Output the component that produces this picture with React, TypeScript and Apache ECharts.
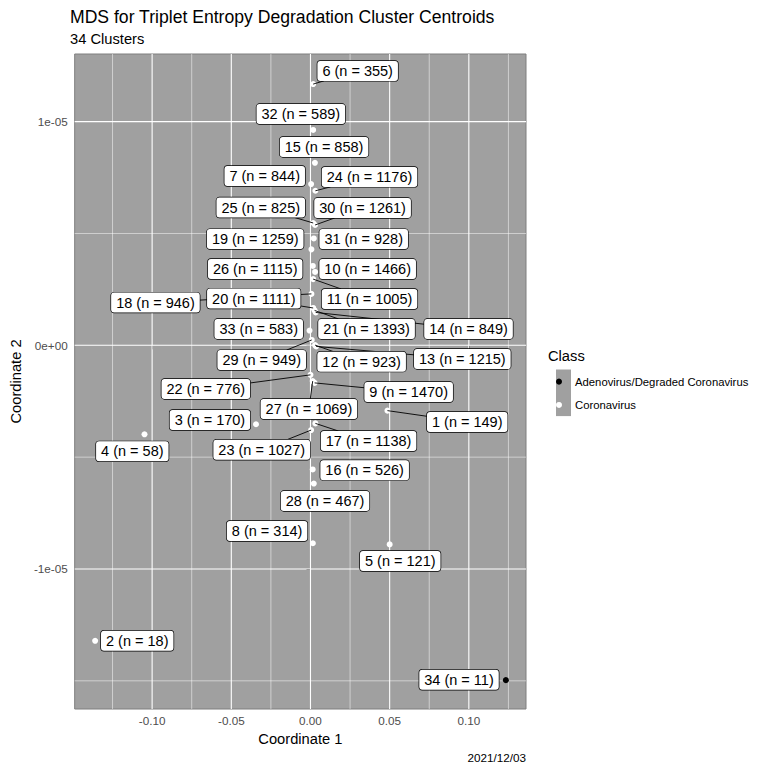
import React, { useEffect, useRef } from "react";
import * as echarts from "echarts";

// ---- data ----
const clusterIds = [1, 2, 3, 4, 5, 6, 7, 8, 9, 10, 11, 12, 13, 14, 15, 16, 17, 18, 19, 20, 21, 22, 23, 24, 25, 26, 27, 28, 29, 30, 31, 32, 33, 34];
const clusterN = [149, 18, 170, 58, 121, 355, 844, 314, 1470, 1466, 1005, 923, 1215, 849, 858, 526, 1138, 946, 1259, 1111, 1393, 776, 1027, 1176, 825, 1115, 1069, 467, 949, 1261, 928, 589, 583, 11];
const clusterClass = [
  "Coronavirus", "Coronavirus", "Coronavirus", "Coronavirus", "Coronavirus", "Coronavirus", "Coronavirus", "Coronavirus", "Coronavirus", "Coronavirus",
  "Coronavirus", "Coronavirus", "Coronavirus", "Coronavirus", "Coronavirus", "Coronavirus", "Coronavirus", "Coronavirus", "Coronavirus", "Coronavirus",
  "Coronavirus", "Coronavirus", "Coronavirus", "Coronavirus", "Coronavirus", "Coronavirus", "Coronavirus", "Coronavirus", "Coronavirus", "Coronavirus",
  "Coronavirus", "Coronavirus", "Coronavirus", "Adenovirus/Degraded Coronavirus",
];
const coord1 = [0.0486, -0.136, -0.0344, -0.1048, 0.05, 0.0017, 0.0004, 0.0015, 0.0026, 0.0029, 0.0017, 0.0029, 0.0036, 0.0033, 0.0028, 0.0014, 0.0031, 0.0006, 0.0006, 0.0017, 0.0026, 0.0, 0.0004, 0.0031, 0.0017, 0.0015, 0.0014, 0.0021, 0.0008, 0.0029, 0.0021, 0.0017, -0.0006, 0.1234];
const coord2 = [-2.92e-6, -1.321e-5, -3.53e-6, -3.98e-6, -8.9e-6, 1.168e-5, 7.21e-6, -8.85e-6, -1.68e-6, 3.28e-6, 2.96e-6, 0.01e-6, -0.05e-6, 1.47e-6, 8.16e-6, -5.55e-6, -3.49e-6, 2.3e-6, 4.29e-6, 1.67e-6, 1.56e-6, -1.32e-6, -3.79e-6, 6.91e-6, 5.47e-6, 3.55e-6, -1.6e-6, -6.18e-6, 0.24e-6, 5.38e-6, 4.78e-6, 9.63e-6, 0.66e-6, -1.497e-5];
// repelled label anchors (label centres, in data units)
const labelAnchor1 = [0.099, -0.1094, -0.0635, -0.1125, 0.0567, 0.0298, -0.0289, -0.0274, 0.062, 0.0361, 0.0373, 0.0323, 0.0959, 0.0998, 0.0086, 0.0342, 0.0367, -0.0979, -0.0349, -0.0358, 0.0354, -0.0661, -0.0308, 0.0373, -0.0314, -0.0349, -0.001, 0.0092, -0.0308, 0.0329, 0.0336, -0.0061, -0.0327, 0.0938];
const labelAnchor2 = [-3.43e-6, -1.321e-5, -3.34e-6, -4.74e-6, -9.64e-6, 1.227e-5, 7.57e-6, -8.3e-6, -2.09e-6, 3.41e-6, 2.07e-6, -0.73e-6, -0.61e-6, 0.73e-6, 8.87e-6, -5.58e-6, -4.28e-6, 1.91e-6, 4.75e-6, 2.09e-6, 0.73e-6, -1.95e-6, -4.67e-6, 7.53e-6, 6.16e-6, 3.41e-6, -2.85e-6, -6.96e-6, -0.66e-6, 6.14e-6, 4.75e-6, 1.034e-5, 0.73e-6, -1.495e-5];

const classNames = ["Adenovirus/Degraded Coronavirus", "Coronavirus"];
const classColors = ["#000000", "#FFFFFF"];

const xTicks = [-0.1, -0.05, 0, 0.05, 0.1];
const xMinor = [-0.125, -0.075, -0.025, 0.025, 0.075, 0.125];
const yTicks = [-1e-5, 0, 1e-5];
const yMinor = [-1.5e-5, -5e-6, 5e-6];

const titleText = "MDS for Triplet Entropy Degradation Cluster Centroids";
const subtitleText = "34 Clusters";
const captionText = "2021/12/03";

const FONT = '"Liberation Sans", Arial, Helvetica, sans-serif';
const LABEL_SIZE = 14.5;

function fmtSci(v: number): string {
  if (v === 0) return "0e+00";
  const [m, e] = v.toExponential(0).split("e");
  const ev = parseInt(e, 10);
  return `${m}e${ev < 0 ? "-" : "+"}${String(Math.abs(ev)).padStart(2, "0")}`;
}

export default function App() {
  const ref = useRef<HTMLDivElement>(null);
  useEffect(() => {
    if (!ref.current) return;
    const chart = echarts.init(ref.current, null, { renderer: "svg" });

    const labels = clusterIds.map((id, i) => `${id} (n = ${clusterN[i]})`);
    const ctx = document.createElement("canvas").getContext("2d")!;
    ctx.font = `${LABEL_SIZE}px "Liberation Sans"`;
    const widths = labels.map((t) => ctx.measureText(t).width);
    const rows = clusterIds.map((_, i) => [coord1[i], coord2[i], labelAnchor1[i], labelAnchor2[i], i]);

    const gridSeries = (vals: number[], vertical: boolean, width: number, z: number) => ({
      type: "custom",
      silent: true,
      z,
      data: vals.map((v) => (vertical ? [v, 0] : [0, v])),
      renderItem: (params: any, api: any) => {
        const cs = params.coordSys;
        if (vertical) {
          const x = api.coord([api.value(0), 0])[0];
          return { type: "line", shape: { x1: x, y1: cs.y, x2: x, y2: cs.y + cs.height }, style: { stroke: "#FFFFFF", lineWidth: width } };
        }
        const y = api.coord([0, api.value(1)])[1];
        return { type: "line", shape: { x1: cs.x, y1: y, x2: cs.x + cs.width, y2: y }, style: { stroke: "#FFFFFF", lineWidth: width } };
      },
    });

    const option: any = {
      animation: false,
      grid: {
        left: 70, right: 233, top: 54, bottom: 55,
        show: true, backgroundColor: "#A0A0A0", borderColor: "#7F7F7F", borderWidth: 1,
      },
      xAxis: {
        type: "value", min: -0.1489, max: 0.1361,
        name: "Coordinate 1", nameLocation: "middle", nameGap: 22,
        nameTextStyle: { fontSize: 14.7, color: "#000", fontFamily: FONT },
        axisLine: { show: false },
        axisTick: { show: true, customValues: xTicks, length: 4, lineStyle: { color: "#333333" } },
        axisLabel: { customValues: xTicks, formatter: (v: number) => v.toFixed(2), fontSize: 11.7, color: "#4D4D4D", fontFamily: FONT, margin: 5 },
        splitLine: { show: false },
      },
      yAxis: {
        type: "value", min: -1.626e-5, max: 1.3025e-5,
        name: "Coordinate 2", nameLocation: "middle", nameGap: 44,
        nameTextStyle: { fontSize: 14.7, color: "#000", fontFamily: FONT },
        axisLine: { show: false },
        axisTick: { show: true, customValues: yTicks, length: 4, lineStyle: { color: "#333333" } },
        axisLabel: { customValues: yTicks, formatter: (v: number) => fmtSci(v), fontSize: 11.7, color: "#4D4D4D", fontFamily: FONT, margin: 7 },
        splitLine: { show: false },
      },
      legend: {
        data: classNames,
        orient: "vertical",
        left: 556, top: 370,
        padding: 0,
        icon: "circle",
        itemWidth: 14, itemHeight: 6, itemGap: 0,
        selectedMode: false,
        z: 5,
        textStyle: { fontSize: 11.3, color: "#000", fontFamily: FONT, lineHeight: 23.3, padding: [0, 0, 0, 4] },
      },
      graphic: [
        { type: "rect", z: 0, shape: { x: 556, y: 369.5, width: 15, height: 46.6 }, style: { fill: "#A0A0A0" } },
        { type: "text", x: 548, y: 355.5, style: { text: "Class", fontSize: 14.7, fontFamily: FONT, fill: "#000", verticalAlign: "middle" } },
        { type: "text", x: 70, y: 17, style: { text: titleText, fontSize: 17.6, fontFamily: FONT, fill: "#000", verticalAlign: "middle" } },
        { type: "text", x: 70, y: 39, style: { text: subtitleText, fontSize: 14.7, fontFamily: FONT, fill: "#000", verticalAlign: "middle" } },
        { type: "text", x: 526, y: 757.5, style: { text: captionText, fontSize: 11.7, fontFamily: FONT, fill: "#000", align: "right", verticalAlign: "middle" } },
      ],
      series: [
        gridSeries(xMinor, true, 0.5, 1),
        gridSeries(yMinor, false, 0.5, 1),
        gridSeries(xTicks, true, 1.1, 1),
        gridSeries(yTicks, false, 1.1, 1),
        ...classNames.map((cls, k) => ({
          type: "scatter",
          name: cls,
          z: 2,
          symbolSize: 6,
          itemStyle: { color: classColors[k], opacity: 1 },
          data: clusterIds.map((_, i) => i).filter((i) => clusterClass[i] === cls).map((i) => [coord1[i], coord2[i]]),
        })),
        {
          type: "custom",
          name: "segments",
          silent: true,
          z: 3,
          data: rows,
          renderItem: (params: any, api: any) => {
            const i = api.value(4);
            const p = api.coord([api.value(0), api.value(1)]);
            const c = api.coord([api.value(2), api.value(3)]);
            const hw = (widths[i] + 10) / 2;
            const hh = 10;
            const dx = p[0] - c[0];
            const dy = p[1] - c[1];
            const t = Math.min(dx !== 0 ? hw / Math.abs(dx) : Infinity, dy !== 0 ? hh / Math.abs(dy) : Infinity);
            if (t >= 1) return null;
            const ex = c[0] + t * dx;
            const ey = c[1] + t * dy;
            if (Math.hypot(p[0] - ex, p[1] - ey) < 10.5) return null;
            return { type: "line", shape: { x1: ex, y1: ey, x2: p[0], y2: p[1] }, style: { stroke: "#000", lineWidth: 0.9 } };
          },
        },
        {
          type: "custom",
          name: "labels",
          silent: true,
          z: 4,
          data: rows,
          renderItem: (params: any, api: any) => {
            const i = api.value(4);
            const c = api.coord([api.value(2), api.value(3)]);
            return {
              type: "text",
              x: c[0], y: c[1],
              style: {
                text: labels[i], align: "center", verticalAlign: "middle",
                fill: "#000", fontSize: LABEL_SIZE, fontFamily: FONT, lineHeight: 14,
                backgroundColor: "#FFFFFF", borderColor: "#000000", borderWidth: 0.7, borderRadius: 3,
                padding: [3, 5, 3, 5],
              },
            };
          },
        },
      ],
    };
    chart.setOption(option);
    return () => chart.dispose();
  }, []);
  return <div ref={ref} style={{ position: "absolute", left: 0, top: 0, width: 759, height: 764 }} />;
}
